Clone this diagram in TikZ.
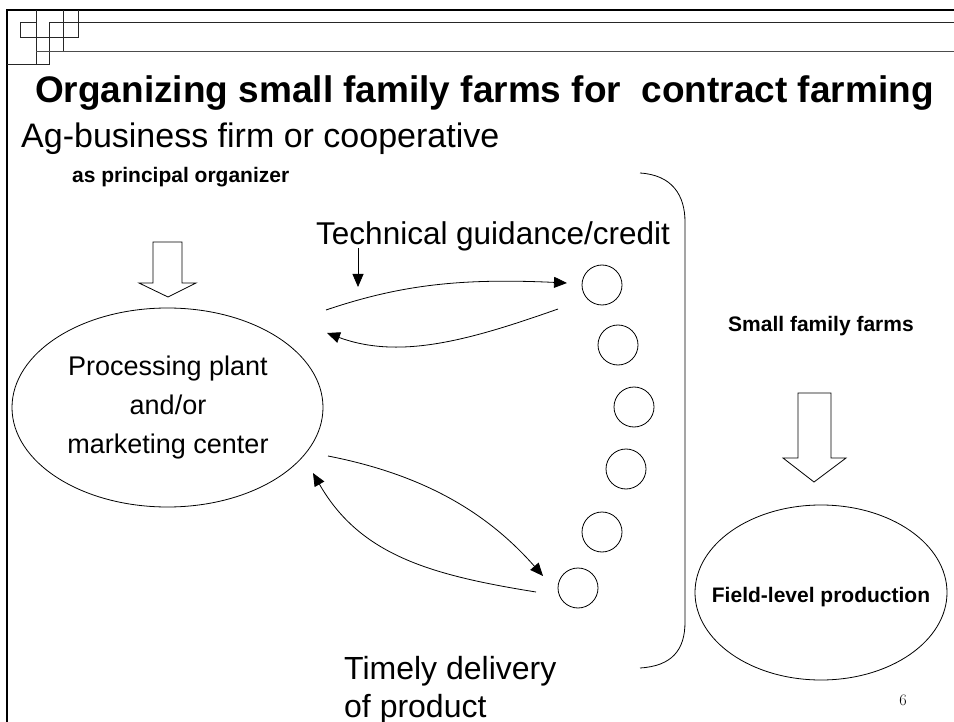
\documentclass[tikz,border=0pt]{standalone}
\usepackage{fontspec}
\setmainfont{Liberation Sans}
\usetikzlibrary{arrows.meta,shapes.geometric}
\begin{document}
\begin{tikzpicture}[x=1pt,y=-1pt,
  deco/.style={line width=1pt, black!85},
  tip/.style={-{Triangle[length=13pt,width=11pt]}, line width=0.8pt},
  farm/.style={circle, draw, line width=0.8pt, minimum size=40pt, inner sep=0pt},
  bigellipse/.style={ellipse, draw, line width=0.8pt, inner sep=0pt},
  hollow/.style={draw, line width=0.8pt, fill=white},
  txt/.style={inner sep=0pt, anchor=base west},
  ctxt/.style={inner sep=0pt, anchor=base},
]
\useasboundingbox (0,0) rectangle (954,722);

% header decoration
\draw[line width=2.5pt] (7,722) -- (7,10) -- (954,10);
\draw[deco] (7,65) -- (36,65);
\draw[deco] (20,23) rectangle (36,38);
\draw[deco] (36,10) -- (36,65) -- (49,65) -- (49,23) -- (954,23);
\draw[deco] (63,10) -- (63,52);
\draw[deco] (78,10) -- (78,38);
\draw[deco] (20,38) -- (78,38);
\draw[deco, black!70] (36,52) -- (954,52);

% texts
\node[txt] (title) at (35,103) {\fontsize{37}{40}\selectfont\bfseries Organizing small family farms for\ \ contract farming};
\node[txt] (ag) at (21,148) {\fontsize{34}{38}\selectfont Ag-business firm or cooperative};
\node[txt] (princ) at (72,183) {\fontsize{21}{24}\selectfont\bfseries as principal organizer};
\node[txt] (tech) at (316,245) {\fontsize{31.5}{34}\selectfont Technical guidance/credit};
\node[txt] (sff) at (728,331) {\fontsize{21}{24}\selectfont\bfseries Small family farms};
\node[txt] (timely) at (344,679) {\fontsize{32}{36}\selectfont Timely delivery};
\node[txt] (ofprod) at (344,717) {\fontsize{32}{36}\selectfont of product};
\node[ctxt] (pagenum) at (903,705) {\fontspec{Latin Modern Roman}\fontsize{16}{18}\selectfont 6};

% main shapes
\node[bigellipse, minimum width=311pt, minimum height=199pt] (proc) at (167.5,407.5) {};
\node[ctxt, align=center, font=\fontsize{27}{39}\selectfont] (proctxt) at (168,453)
      {Processing plant\\and/or\\marketing center};
\node[bigellipse, minimum width=252pt, minimum height=175pt] (field) at (821,592.5) {};
\node[ctxt] (fieldtxt) at (821,602) {\fontsize{21}{24}\selectfont\bfseries Field-level production};

% hollow block arrows
\draw[hollow] (153,242) -- (182,242) -- (182,283) -- (196,283) -- (168,297) -- (139,283) -- (153,283) -- cycle;
\draw[hollow] (798,393) -- (831,393) -- (831,458) -- (846,458) -- (814,482) -- (783,458) -- (798,458) -- cycle;

% farms
\node[farm] (f1) at (602,285) {};
\node[farm] (f2) at (618,345) {};
\node[farm] (f3) at (634,407) {};
\node[farm] (f4) at (626,469) {};
\node[farm] (f5) at (602,532) {};
\node[farm] (f6) at (578,588) {};

% brace
\draw[line width=0.8pt] (640,173) .. controls (672,175) and (685,195) .. (685,222)
  -- (685,622) .. controls (685,650) and (672,666) .. (640,668);

% connector end points
\coordinate (a1s) at (326,310);
\coordinate (a1e) at (567,283);
\coordinate (a2s) at (558,309);
\coordinate (a2e) at (327,333);
\coordinate (a3s) at (358,248);
\coordinate (a3e) at (358,287);
\coordinate (a4s) at (328,456);
\coordinate (a4e) at (543,576);
\coordinate (a5s) at (536,592);
\coordinate (a5e) at (313,473);

\draw[tip] (a1s) .. controls (400,285) and (460,278) .. (a1e);
\draw[tip] (a2s) .. controls (470,340) and (400,360) .. (a2e);
\draw[tip] (a3s) -- (a3e);
\draw[tip] (a4s) .. controls (420,474) and (485,510) .. (a4e);
\draw[tip] (a5s) .. controls (430,575) and (360,555) .. (a5e);
\end{tikzpicture}
\end{document}
